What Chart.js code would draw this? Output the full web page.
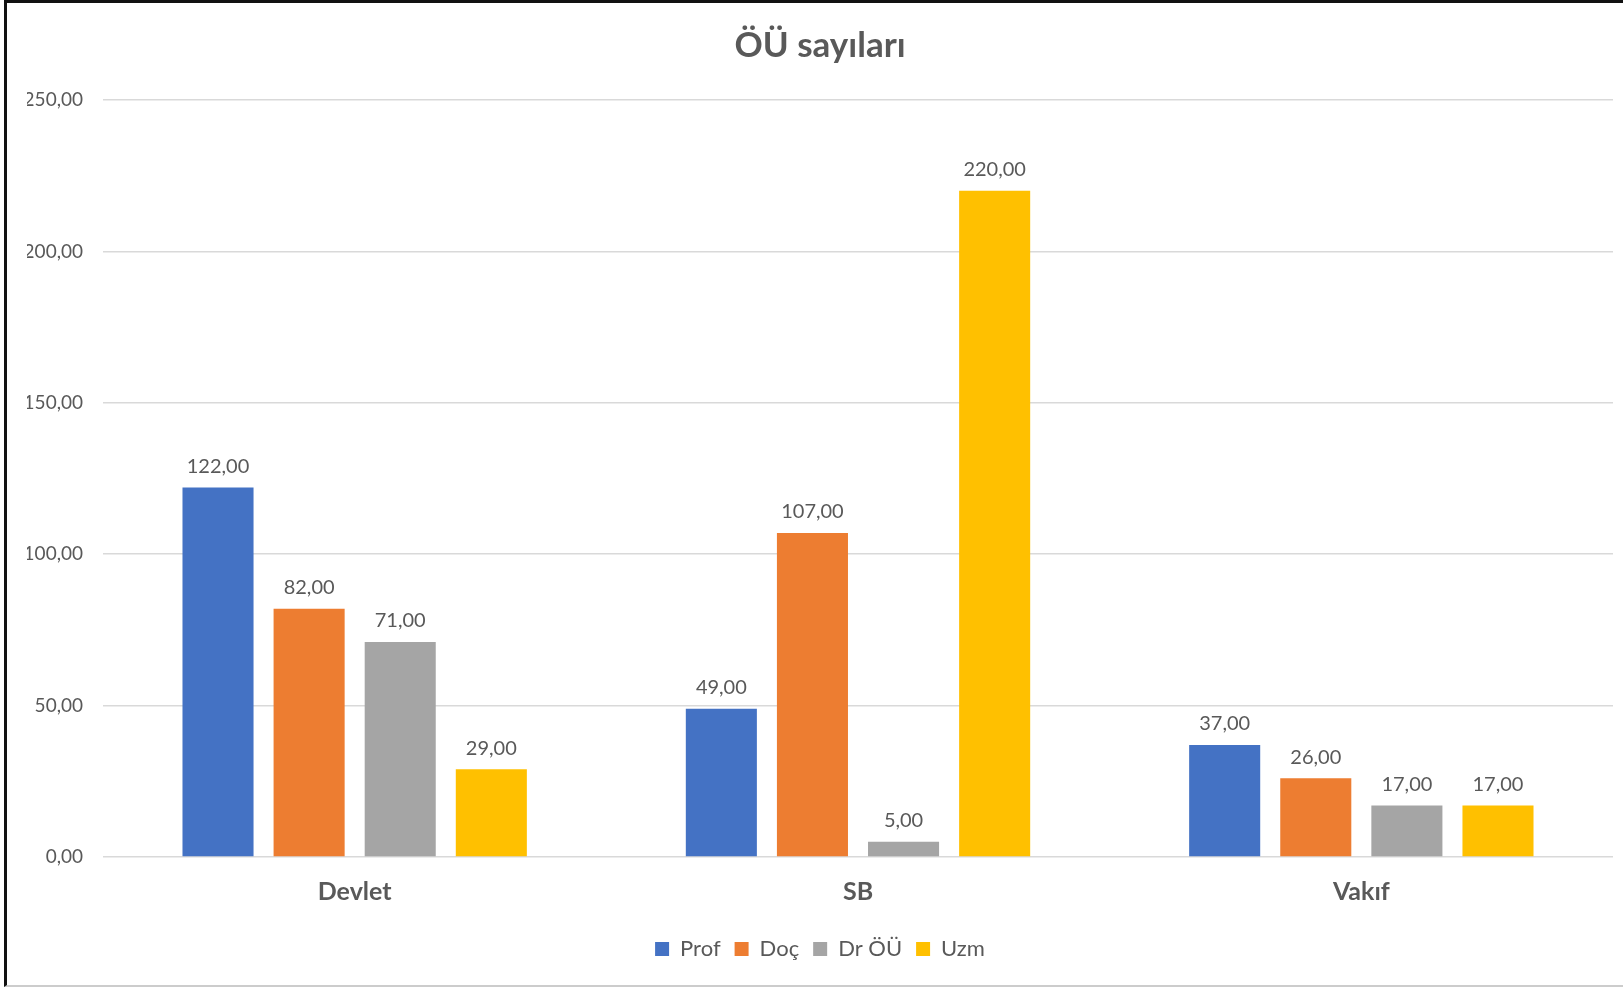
<!DOCTYPE html>
<html>
<head>
<meta charset="utf-8">
<script src="https://cdn.jsdelivr.net/npm/chart.js@4"></script>
<style>
  html, body { margin: 0; padding: 0; background: #fff; }
  #frame {
    position: absolute; left: 4px; top: 0;
    width: 1619px; height: 987px; box-sizing: border-box;
    border-top: 3px solid #111; border-left: 3px solid #111; border-bottom: 2px solid #ccc;
  }
  #wrap { position: relative; width: 100%; height: 100%; }
</style>
</head>
<body>
<div id="frame"><div id="wrap"><canvas id="myChart"></canvas></div></div>
<script>
// Kategoriler ve seriler
const categories = ['Devlet', 'SB', 'Vakıf']
const seriesNames = ['Prof', 'Doç', 'Dr ÖÜ', 'Uzm']
const profValues = [122, 49, 37]
const docValues = [82, 107, 26]
const drOuValues = [71, 5, 17]
const uzmValues = [29, 220, 17]
const yTicks = [0, 50, 100, 150, 200, 250]

const colors = ['#4472C4', '#ED7D31', '#A5A5A5', '#FFC000']
const textColor = '#595959'
const fontFamily = 'Lato, "Open Sans", sans-serif'

const fmt = v => v.toFixed(2).replace('.', ',')

// Çubukların üstüne değer etiketleri
const valueLabels = {
  id: 'valueLabels',
  afterDatasetsDraw(chart) {
    const c = chart.ctx
    c.save()
    c.font = '20px ' + fontFamily
    c.fillStyle = textColor
    c.textAlign = 'center'
    c.textBaseline = 'bottom'
    chart.data.datasets.forEach((ds, i) => {
      chart.getDatasetMeta(i).data.forEach((bar, j) => {
        c.fillText(fmt(ds.data[j]), bar.x, bar.y - 11)
      })
    })
    c.restore()
  },
}

const seriesData = [profValues, docValues, drOuValues, uzmValues]

const myChart = new Chart(document.getElementById('myChart').getContext('2d'), {
  type: 'bar',
  data: {
    labels: categories,
    datasets: seriesNames.map((name, i) => ({
      label: name,
      data: seriesData[i],
      backgroundColor: colors[i],
      categoryPercentage: 0.724,
      barPercentage: 0.78,
    })),
  },
  options: {
    responsive: true,
    maintainAspectRatio: false,
    animation: false,
    layout: { padding: { left: 20, right: 10, top: 22, bottom: 15 } },
    plugins: {
      title: {
        display: true,
        text: 'ÖÜ sayıları',
        color: textColor,
        font: { family: fontFamily, size: 35, weight: 'bold' },
        padding: { top: 0, bottom: 33 },
      },
      legend: {
        position: 'bottom',
        labels: {
          color: textColor,
          boxWidth: 14,
          boxHeight: 14,
          padding: 14,
          font: { family: fontFamily, size: 22 },
        },
      },
      tooltip: { enabled: false },
    },
    scales: {
      x: {
        grid: { display: false },
        border: { display: false },
        afterFit: axis => { axis.height += 5 },
        ticks: {
          color: textColor,
          padding: 12,
          font: { family: fontFamily, size: 25, weight: 'bold' },
        },
      },
      y: {
        min: 0,
        max: 250,
        afterBuildTicks: axis => { axis.ticks = yTicks.map(v => ({ value: v })) },
        afterFit: axis => { axis.width = 76 },
        border: { display: false },
        grid: { color: '#d9d9d9', lineWidth: 1.5, drawTicks: false },
        ticks: {
          color: textColor,
          padding: 20,
          font: { family: fontFamily, size: 19 },
          callback: v => fmt(v),
        },
      },
    },
  },
  plugins: [valueLabels],
})
</script>
</body>
</html>
